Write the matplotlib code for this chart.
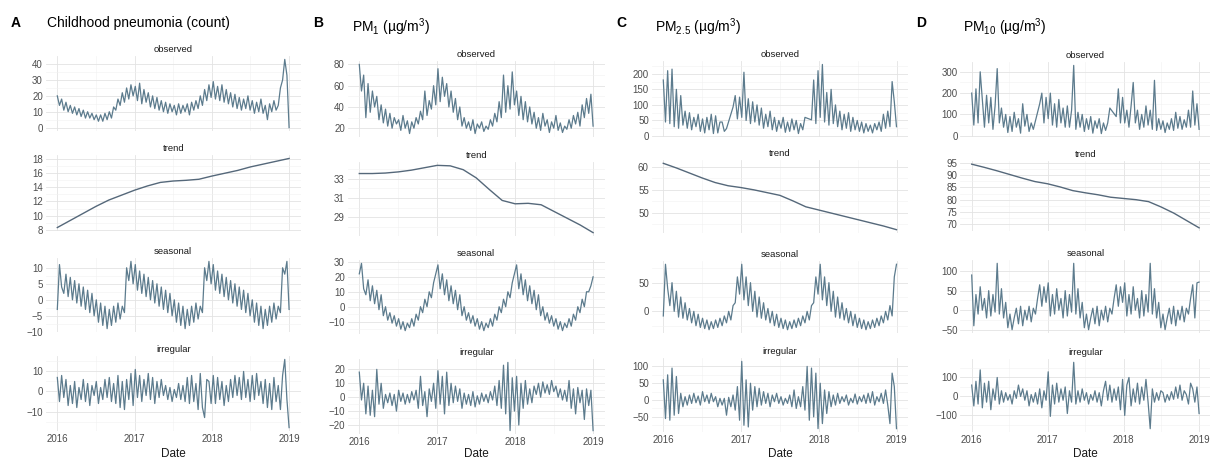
import numpy as np
import pandas as pd
import matplotlib
matplotlib.use("Agg")
import matplotlib.pyplot as plt
import matplotlib.dates as mdates
from matplotlib.ticker import FixedLocator

plt.rcParams['font.family'] = ['Liberation Sans', 'DejaVu Sans']
plt.rcParams['mathtext.fontset'] = 'custom'
plt.rcParams['mathtext.rm'] = 'Liberation Sans'
plt.rcParams['mathtext.it'] = 'Liberation Sans:italic'
plt.rcParams['mathtext.bf'] = 'Liberation Sans:bold'

# ---------------- data (~3 values per month) ----------------
component_names = ["observed", "trend", "seasonal", "irregular"]
year_ticks = ["2016", "2017", "2018", "2019"]

pneu_observed = [20, 14, 18, 11, 16, 10, 14, 9, 13, 8, 12, 7, 11, 6, 10, 6, 9, 5, 8, 4, 8, 4, 9, 5,
                 10, 6, 13, 11, 18, 14, 22, 16, 25, 18, 27, 20,
                 26, 17, 28, 15, 24, 16, 22, 13, 20, 12, 19, 11, 17, 10, 16, 9, 15, 10, 14, 8, 15, 9, 14, 10,
                 15, 8, 16, 11, 17, 12, 20, 14, 24, 17, 27, 19,
                 29, 18, 26, 17, 27, 16, 24, 15, 22, 13, 21, 12, 19, 11, 18, 12, 20, 11, 17, 9, 16, 10, 18, 9,
                 14, 5, 15, 10, 17, 11, 14, 25, 30, 43, 33, 0]
pneu_trend = [8.3, 9.3, 10.3, 11.3, 12.2, 12.9, 13.6, 14.2, 14.7, 14.9, 15.0, 15.15, 15.6, 16.0, 16.4,
              16.9, 17.3, 17.7, 18.1]
pneu_seasonal = [-3, 11, 4, 2, 8, 1, 7, 0, 6, -1, 5, -2, 4, -3, 3, -4, 2, -5, 0, -7, -1, -8, -2, -9,
                 -3, -8, -2, -7, -1, -6, -2, -4, 10, 6, 12, 5,
                 11, 3, 9, 2, 8, 1, 7, 0, 6, -1, 5, -2, 4, -3, 3, -4, 2, -5, 0, -7, -1, -8, -2, -9,
                 -3, -8, -2, -7, -1, -6, -2, -4, 10, 6, 12, 5,
                 11, 3, 9, 2, 8, 1, 7, 0, 6, -1, 5, -2, 4, -3, 3, -4, 2, -5, 0, -7, -1, -8, -2, -9,
                 -3, -8, -2, -7, -1, -6, -2, -4, 10, 8, 12, -3]
pneu_irregular = [7, -5, 8, -3, 6, -7, 3, -6, 5, -8, 2, -4, 6, -5, 4, -7, 3, -2, 5, -6, 2, -4, 6, -3,
                  7, -5, 4, -6, 8, -8, 5, -9, 6, -4, 9, -7,
                  11, -3, 8, -5, 6, -2, 9, -4, 7, -6, 5, -3, 6, -2, 3, -4, 2, -5, 1, -3, 4, -4, 3, -5,
                  7, -6, 8, -5, 4, -9, 9, -8, -13, 6, 5, -6,
                  8, -6, 7, -4, 5, -7, 3, -5, 6, -3, 8, -2, 7, -4, 10, -3, 6, -5, 8, -4, 9, -2, 5, -6,
                  6, -8, 4, -9, 7, -5, 3, -9, 8, 16, -4, -18]

pm1_observed = [80, 55, 70, 30, 62, 35, 55, 40, 50, 28, 42, 25, 38, 22, 34, 20, 30, 24, 28, 18, 32, 20, 27, 15,
                26, 20, 30, 24, 36, 28, 55, 32, 46, 38, 60, 42,
                76, 45, 68, 50, 62, 40, 55, 35, 48, 28, 40, 22, 30, 20, 26, 18, 28, 15, 24, 20, 26, 17, 22, 19,
                28, 22, 34, 26, 45, 30, 70, 35, 60, 38, 73, 42,
                55, 32, 50, 28, 45, 26, 40, 24, 35, 20, 30, 18, 34, 22, 28, 16, 26, 20, 32, 18, 25, 16, 22, 19,
                28, 20, 32, 24, 35, 22, 42, 30, 48, 34, 52, 22]
pm1_trend = [33.55, 33.55, 33.6, 33.72, 33.9, 34.15, 34.4, 34.35, 33.95, 33.1, 31.9, 30.75, 30.4, 30.45,
             30.3, 29.6, 28.9, 28.2, 27.4]
pm1_seasonal = [22, 29, 12, 8, 18, 4, 14, 2, 11, -2, 8, -6, 0, -9, -4, -11, -6, -13, -8, -15, -10, -16, -11, -14,
                -8, -13, -5, -9, 0, -4, 5, 0, 10, 6, 16, 22,
                28, 12, 22, 8, 18, 4, 14, 2, 11, -2, 8, -6, 0, -9, -4, -11, -6, -13, -8, -15, -10, -16, -11, -14,
                -8, -13, -5, -9, 0, -4, 5, 0, 10, 6, 16, 22,
                28, 12, 22, 8, 18, 4, 14, 2, 11, -2, 8, -6, 0, -9, -4, -11, -6, -13, -8, -15, -10, -16, -11, -14,
                -8, -13, -5, -9, 0, -4, 5, 0, 10, 10, 14, 20]
pm1_irregular = [18, -2, 10, -12, 8, -13, 5, -14, 20, -5, 10, -8, 2, -4, 3, -6, 2, -10, 5, -3, 3, -5, 2, -4,
                 4, -2, 5, -8, 15, -6, 4, -14, 6, -3, 10, -8,
                 19, -5, 15, -12, 18, -6, 10, -4, 8, -3, 6, -8, 3, -5, 2, -6, 4, -7, 1, -5, 3, -3, 2, -4,
                 4, -2, 8, -6, 12, -8, 23, -12, 25, -24, 14, -10,
                 15, -20, 10, -8, 12, -5, 6, -4, 8, 2, 10, 0, 11, 3, 9, 2, 12, 4, 8, 0, 6, -2, 5, -3,
                 12, -8, 6, -12, 7, -4, 5, -16, 6, -6, 5, -24]

pm25_observed = [180, 45, 210, 40, 215, 30, 150, 25, 130, 35, 80, 25, 75, 20, 60, 30, 70, 15, 55, 10, 60, 20, 70, 8,
                 65, 10, 45, 45, 15, 24, None, None, 93, 130, 55, 125,
                 60, 205, 50, 120, 40, 110, 45, 100, 35, 90, 25, 70, 30, 80, 20, 60, 15, 50, 25, 60, 12, 45, 15, 55,
                 20, 50, 8, 40, 20, 60, None, None, 52, 180, 40, 210,
                 60, 230, 45, 140, 35, 150, 40, 100, 30, 80, 20, 70, 25, 75, 15, 60, 20, 50, 15, 45, 10, 40, 15, 35,
                 10, 40, 20, 45, 15, 70, 25, 80, 30, 175, 110, 30]
pm25_trend = [60.8, 59.8, 58.7, 57.6, 56.6, 55.9, 55.5, 55.0, 54.4, 53.8, 52.6, 51.3, 50.6, 49.9, 49.2,
              48.5, 47.8, 47.1, 46.3]
pm25_seasonal = [-8, 82, 40, 10, 50, 0, 35, -10, 25, -12, 15, -15, 5, -20, 0, -25, -5, -28, -12, -30, -15, -32, -18, -30,
                 -15, -28, -12, -25, -8, -20, 0, -15, 10, 15, 60, 30,
                 82, 20, 60, 10, 50, 0, 35, -10, 25, -12, 15, -15, 5, -20, 0, -25, -5, -28, -12, -30, -15, -32, -18, -30,
                 -15, -28, -12, -25, -8, -20, 0, -15, 10, 15, 60, 30,
                 82, 20, 60, 10, 50, 0, 35, -10, 25, -12, 15, -15, 5, -20, 0, -25, -5, -28, -12, -30, -15, -32, -18, -30,
                 -15, -28, -12, -25, -8, -20, 0, -15, 10, -8, 60, 82]
pm25_irregular = [60, -55, 75, -60, 95, -45, 70, -40, 20, -20, 10, -15, 15, -10, 20, -8, 12, -15, 25, -5, 15, -10, 20, -5,
                  10, -20, 5, -15, 5, -45, 8, -20, 15, -30, 40, -60,
                  115, -75, 60, -80, 50, -30, 40, -20, 35, -15, 25, -10, 20, -20, 15, -5, 20, -10, 10, -15, 5, -10, 15, -20,
                  30, -25, 10, -20, 40, -30, 100, -60, 95, -50, 80, -85,
                  50, -70, 30, -40, 25, -20, 15, -15, 20, -10, 10, -5, 15, -15, 5, -8, 18, -12, 10, -5, 15, -10, 20, -8,
                  25, -15, 10, -5, 20, -10, 30, -15, -70, 80, 40, -85]

pm10_observed = [200, 50, 220, 60, 300, 170, 40, 190, 60, 180, 30, 140, 315, 60, 130, 40, 100, 15, 90, 20, 110, 40, 80, 12,
                 150, 45, 100, 20, 60, 30, None, None, 150, 200, 60, 180,
                 80, 200, 50, 150, 40, 170, 60, 130, 40, 140, 40, 120, 330, 30, 110, 40, 100, 20, 80, 30, 90, 12, 70, 35,
                 80, 10, 60, 25, 60, 130, None, None, 90, 220, 60, 180,
                 60, 120, 40, 140, 250, 60, 120, 30, 100, 40, 140, 50, 120, 30, 260, 25, 80, 30, 70, 15, 60, 30, 80, 25,
                 110, 35, 90, 30, 75, 40, 120, 40, 210, 50, 150, 30]
pm10_trend = [94.5, 93.2, 91.8, 90.3, 88.8, 87.4, 86.5, 85.2, 83.7, 82.8, 82.0, 81.0, 80.5, 80.0, 79.2,
              77.0, 74.5, 71.5, 68.5]
pm10_seasonal = [90, -40, 40, -10, 60, 0, 30, -20, 50, -15, 40, -5, 120, -10, 55, -20, 20, -45, -10, -50, -20, 5, -35, 10,
                 -40, 0, -25, 10, -30, 5, -10, 30, 65, 10, 60, 20,
                 70, -15, 40, -10, 55, 0, 30, -20, 50, -15, 40, -5, 120, -10, 55, -20, 20, -45, -10, -50, -20, 5, -35, 10,
                 -40, 0, -25, 10, -30, 5, -10, 30, 65, 10, 60, 20,
                 70, -15, 40, -10, 60, 0, 30, -20, 50, -15, 40, -5, 120, -10, 55, -20, 20, -45, -10, -50, -20, 5, -35, 10,
                 -40, 0, -25, 10, -30, 5, -10, 30, 65, -20, 70, 72]
pm10_irregular = [60, -50, 80, -40, 140, -60, 70, -30, 80, -70, 40, -20, 100, -40, 30, -30, 20, -20, 10, -40, 30, -10, 60, 0,
                  40, -20, 30, -50, 10, -30, 20, -40, 40, -60, 30, -20,
                  130, -105, 60, -40, 70, -30, 40, -20, 50, -90, 30, -30, 180, -40, 30, -30, 40, -20, 20, -40, 10, -20, 30, -30,
                  20, -50, 30, 80, -20, 60, -30, 40, -20, 50, -70, 90,
                  -100, 60, 100, -50, 40, -30, 70, -40, 50, -20, 90, -30, -170, 40, -30, 20, -20, 30, 20, -30, 10, -20, 25, -15,
                  50, -10, 60, -20, 30, 10, -40, 70, 40, -30, 50, -90]

panel_letters = ["A", "B", "C", "D"]
panel_titles = ["Childhood pneumonia (count)", r"PM$_{1}$ (µg/m$^{3}$)",
                r"PM$_{2.5}$ (µg/m$^{3}$)", r"PM$_{10}$ (µg/m$^{3}$)"]
columns = [
    [pneu_observed, pneu_trend, pneu_seasonal, pneu_irregular],
    [pm1_observed, pm1_trend, pm1_seasonal, pm1_irregular],
    [pm25_observed, pm25_trend, pm25_seasonal, pm25_irregular],
    [pm10_observed, pm10_trend, pm10_seasonal, pm10_irregular],
]
# y tick values per panel (major, minor)
yticks = [
    [([0, 10, 20, 30, 40], [5, 15, 25, 35]), ([8, 10, 12, 14, 16, 18], [9, 11, 13, 15, 17]),
     ([-10, -5, 0, 5, 10], [-7.5, -2.5, 2.5, 7.5]), ([-10, 0, 10], [-15, -5, 5, 15])],
    [([20, 40, 60, 80], [30, 50, 70]), ([29, 31, 33], [28, 30, 32, 34]),
     ([-10, 0, 10, 20, 30], [-15, -5, 5, 15, 25]), ([-20, -10, 0, 10, 20], [-15, -5, 5, 15])],
    [([0, 50, 100, 150, 200], [25, 75, 125, 175, 225]), ([50, 55, 60], [47.5, 52.5, 57.5]),
     ([0, 50], [-25, 25, 75]), ([-50, 0, 50, 100], [-75, -25, 25, 75])],
    [([0, 100, 200, 300], [50, 150, 250]), ([70, 75, 80, 85, 90, 95], [72.5, 77.5, 82.5, 87.5, 92.5]),
     ([-50, 0, 50, 100], [-25, 25, 75]), ([-100, 0, 100], [-150, -50, 50, 150])],
]

# ---------------- layout (pixels) ----------------
W, H = 1213, 459
fig = plt.figure(figsize=(W / 100, H / 100), dpi=100)

col_x = [(57.3, 289.3), (359.3, 593.3), (663.3, 896.7), (971.7, 1199.3)]
col_rows = [
    [(56, 131), (155, 231), (258, 332), (356, 431)],
    [(61, 137), (162, 236), (260, 334), (359, 434)],
    [(61, 137), (160, 233), (261, 333), (358, 432)],
    [(62, 137), (161, 231), (260, 333), (359, 432)],
]
letter_x = [11, 313, 616, 916]
title_x = [47, 352, 655, 963]
title_y = [23, 27, 27, 27]

line_col = "#5c7b8d"
trend_col = "#55687a"
tick_col = "#4d4d4d"

d0 = mdates.date2num(pd.Timestamp("2016-01-01"))
d1 = mdates.date2num(pd.Timestamp("2018-12-31"))
d2019 = mdates.date2num(pd.Timestamp("2019-01-01"))
span = d1 - d0
year_pos = [mdates.date2num(pd.Timestamp(y + "-01-01")) for y in year_ticks]
half_pos = [mdates.date2num(pd.Timestamp(y + "-07-01")) for y in year_ticks[:3]]


def fmt(v):
    s = f"{v:g}"
    return s.replace("-", "\u2212")


for ci in range(4):
    p16, p19 = col_x[ci]
    scale = (p19 - p16) / (d2019 - d0)
    left_px = p16 - 0.05 * span * scale
    width_px = 1.1 * span * scale
    for ri in range(4):
        top, bot = col_rows[ci][ri]
        ax = fig.add_axes([left_px / W, 1 - bot / H, width_px / W, (bot - top) / H])
        vals = np.array(columns[ci][ri], dtype=float)
        dates = pd.date_range("2016-01-01", "2018-12-31", periods=len(vals))
        ok = ~np.isnan(vals)
        if ri == 1:
            ax.plot(dates[ok], vals[ok], color=trend_col, lw=1.0)
        else:
            ax.plot(dates[ok], vals[ok], color=line_col, lw=0.9)
        ax.set_xlim(d0 - 0.05 * span, d1 + 0.05 * span)
        ax.margins(y=0.05)
        maj, mnr = yticks[ci][ri]
        ax.yaxis.set_major_locator(FixedLocator(maj))
        ax.yaxis.set_minor_locator(FixedLocator(mnr))
        ax.set_yticklabels([fmt(v) for v in maj])
        ax.xaxis.set_major_locator(FixedLocator(year_pos))
        ax.xaxis.set_minor_locator(FixedLocator(half_pos))
        if ri == 3:
            ax.set_xticklabels(year_ticks)
        else:
            ax.set_xticklabels([])
        ax.tick_params(which="both", length=0, labelsize=7, labelcolor=tick_col, pad=2)
        ax.grid(which="major", color="#e3e3e3", lw=0.6)
        ax.grid(which="minor", color="#f1f1f1", lw=0.4)
        ax.set_axisbelow(True)
        for s in ax.spines.values():
            s.set_visible(False)
        ax.set_title(component_names[ri], fontsize=6.8, pad=3, color="#1a1a1a")
    # column header
    fig.text(letter_x[ci] / W, 1 - 23 / H, panel_letters[ci], fontsize=10, fontweight="bold",
             va="center", ha="left")
    fig.text(title_x[ci] / W, 1 - title_y[ci] / H, panel_titles[ci], fontsize=10,
             va="center", ha="left")
    fig.text((p16 + p19) / 2 / W, 1 - 454 / H, "Date", fontsize=8.5, ha="center", va="center",
             color="#1a1a1a")

fig.savefig("out.png", dpi=100)
